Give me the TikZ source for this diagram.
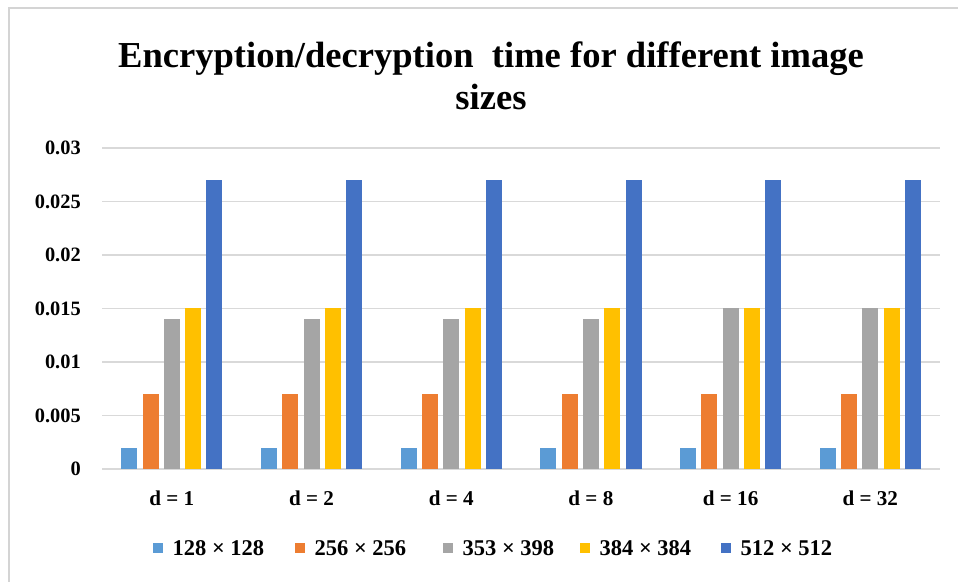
\documentclass[tikz,border=0pt]{standalone}
\usepackage{fontspec}
\setmainfont{Liberation Serif}
\usetikzlibrary{positioning}
\definecolor{sizeA}{HTML}{5B9BD5}
\definecolor{sizeB}{HTML}{ED7D31}
\definecolor{sizeC}{HTML}{A5A5A5}
\definecolor{sizeD}{HTML}{FFC000}
\definecolor{sizeE}{HTML}{4472C4}
\definecolor{gridgray}{HTML}{D9D9D9}
\definecolor{framegray}{HTML}{D4D4D4}

\begin{document}
\begin{tikzpicture}[x=0.025cm, y=-0.025cm]

% pixel-like units: x to the right, y downwards
\tikzset{
  gridline/.style={draw=gridgray, line width=1.1pt},
  bar/.style={line width=0pt},
  ticklab/.style={anchor=east, inner sep=0pt, font=\fontsize{14.5}{17}\selectfont\bfseries},
  catlab/.style={inner sep=0pt, font=\fontsize{15}{18}\selectfont\bfseries},
  legkey/.style={inner sep=0pt, minimum size=7.2pt},
  leglab/.style={inner sep=0pt, anchor=west, font=\fontsize{16}{19}\selectfont\bfseries},
  titlelab/.style={align=center, inner sep=0pt, font=\fontsize{26}{30}\selectfont\bfseries}}

\useasboundingbox (0,0) rectangle (958,582);
\fill[white] (0,0) rectangle (958,582);
\draw[framegray, line width=0.9pt] (9,582) -- (9,8) -- (958,8);

% title
\node[titlelab] (title) at (491,76) {Encryption/decryption\ \ time for different image\\sizes};

% gridlines and value axis
\foreach \k/\val in {0/0, 1/0.005, 2/0.01, 3/0.015, 4/0.02, 5/0.025, 6/0.03} {
  \draw[gridline] (102,469-53.5*\k) -- (940,469-53.5*\k);
  \node[ticklab] (tick\k) at (81,469-53.5*\k) {\val};
}

% bars: one group per d, heights in units of 0.001 (53.5/5 px each)
\foreach \g/\d/\c in {1/1/14, 2/2/14, 3/4/14, 4/8/14, 5/16/15, 6/32/15} {
  \pgfmathsetmacro{\cx}{171.8+139.7*(\g-1)}
  \foreach \i/\col/\h in {-2/sizeA/2, -1/sizeB/7, 0/sizeC/\c, 1/sizeD/15, 2/sizeE/27} {
    \fill[bar, \col] (\cx+21.3*\i-8,469) rectangle (\cx+21.3*\i+8,469-10.7*\h);
  }
  \node[catlab] (cat\g) at (\cx,498) {d = \d};
}

% legend
\node[legkey, fill=sizeA] (key1) at (158,548) {};
\node[leglab, right=6.4pt of key1.east] (leg1) {128 × 128};
\node[legkey, fill=sizeB] (key2) at (300,548) {};
\node[leglab, right=6.4pt of key2.east] (leg2) {256 × 256};
\node[legkey, fill=sizeC] (key3) at (448,548) {};
\node[leglab, right=6.4pt of key3.east] (leg3) {353 × 398};
\node[legkey, fill=sizeD] (key4) at (585,548) {};
\node[leglab, right=6.4pt of key4.east] (leg4) {384 × 384};
\node[legkey, fill=sizeE] (key5) at (726,548) {};
\node[leglab, right=6.4pt of key5.east] (leg5) {512 × 512};

\end{tikzpicture}
\end{document}
